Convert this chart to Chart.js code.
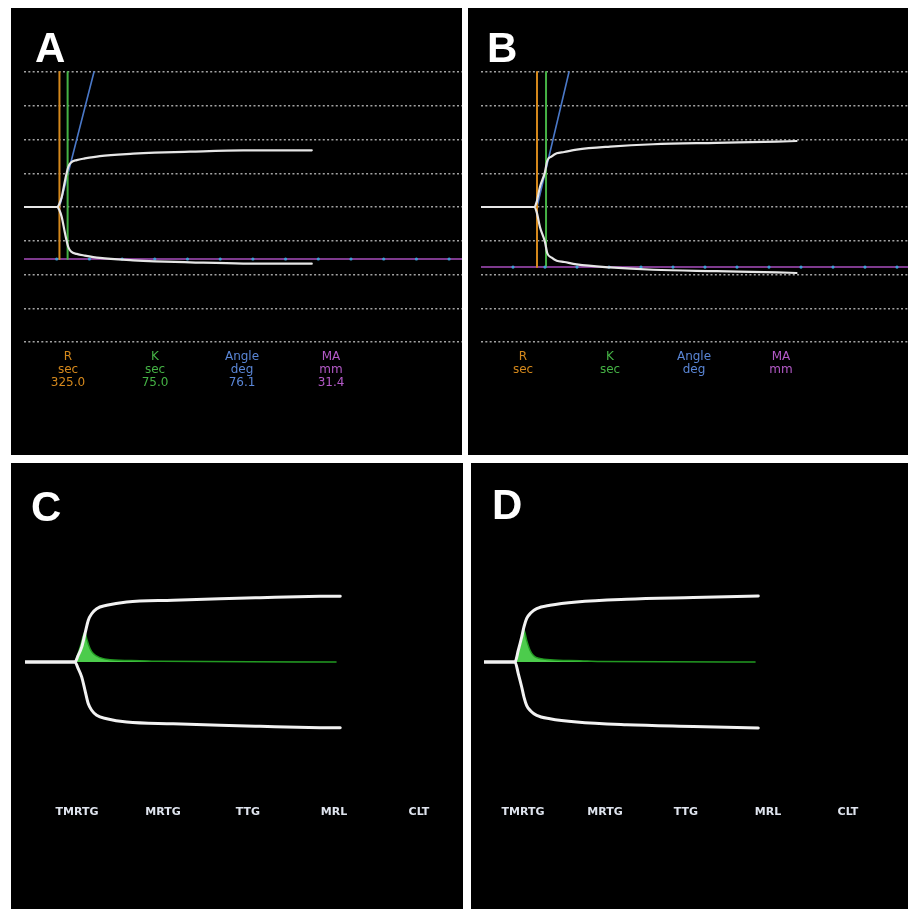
<!DOCTYPE html>
<html><head><meta charset="utf-8">
<script src="https://cdn.jsdelivr.net/npm/chart.js@4.4.1/dist/chart.umd.min.js"></script>
<style>
html,body{margin:0;padding:0;background:#fff;width:908px;height:909px;overflow:hidden;position:relative;}
.panel{position:absolute;background:#000;overflow:hidden;}
.panel canvas{position:absolute;top:0;}
.letter{position:absolute;font:bold 42px "Liberation Sans",Arial,sans-serif;color:#fff;line-height:42px;}
.lab{position:absolute;width:100px;text-align:center;font:12px "DejaVu Sans",Verdana,sans-serif;line-height:13px;}
.cat{position:absolute;width:100px;text-align:center;font:bold 11px "DejaVu Sans",Verdana,sans-serif;color:#dfe4ee;line-height:13px;}
</style></head><body>
<script>
// ---------- DATA (time in minutes, amplitude in mm from the centre line) ----------
const gridLevels = [-40, -30, -20, -10, 0, 10, 20, 30, 40];
const tickMinutes = [5, 10, 15, 20, 25, 30, 35, 40, 45, 50, 55, 60, 65];

// Panel A
const timeA = [0, 5.1, 5.4, 5.76, 6.27, 6.77, 7.2, 8.06, 9.3, 11.6, 16.7, 20.0, 25.4, 33.5, 44.0];
const ampA  = [0, 0, 0.9, 2.9, 7.8, 11.85, 13.2, 13.9, 14.4, 15.1, 15.8, 16.1, 16.4, 16.75, 16.8];
const rA = 5.42;          // R = 325.0 s
const kEndA = 6.67;       // R + K (K = 75.0 s)
const angleA = [[5.42, 0], [10.7, 40]];
const maLineA = -15.4;

// Panel B
const timeB = [0, 8.3, 8.7, 9.22, 10.0, 10.36, 11.05, 11.83, 13.0, 14.95, 20.16, 26.9, 36.8, 46.2, 49.3];
const ampB  = [0, 0, 1.5, 6.0, 10.4, 13.7, 15.0, 15.9, 16.3, 17.0, 17.9, 18.6, 19.0, 19.35, 19.55];
const rB = 8.75;
const kEndB = 10.16;
const angleB = [[8.75, 0], [13.75, 40]];
const maLineB = -17.8;

// Panel C
const timeC = [0, 7.69, 8.15, 8.72, 9.23, 9.74, 10.26, 11.03, 12.57, 15.65, 22.8, 30.0, 36.15, 45.4, 48.5];
const ampC  = [0, 0, 1.8, 4.4, 8.4, 12.4, 14.3, 15.8, 16.8, 17.8, 18.3, 18.75, 19.05, 19.45, 19.5];
const velTimeC = [7.69, 8.15, 8.62, 9.23, 9.49, 10.0, 10.5, 11.54, 13.08, 17.7, 20.8, 47.85];
const velC     = [0, 2.4, 5.3, 8.9, 6.9, 4.0, 2.5, 1.3, 0.7, 0.4, 0.2, 0];

// Panel D
const timeD = [0, 4.77, 5.28, 5.8, 6.15, 6.57, 7.18, 8.11, 10.15, 14.26, 21.95, 32.2, 42.2];
const ampD  = [0, 0, 3.5, 7.4, 10.4, 12.9, 14.5, 15.8, 16.8, 17.8, 18.6, 19.1, 19.55];
const velTimeD = [4.77, 5.23, 5.69, 6.15, 6.57, 7.08, 7.58, 8.11, 10.15, 14.77, 17.85, 41.7];
const velD     = [0, 3.0, 5.9, 9.5, 6.4, 3.5, 2.0, 1.3, 0.7, 0.4, 0.15, 0];

// Parameter table (panels A and B)
const paramNames = ['R', 'K', 'Angle', 'MA'];
const paramUnits = ['sec', 'sec', 'deg', 'mm'];
const paramValuesA = ['325.0', '75.0', '76.1', '31.4'];
const paramValuesB = ['', '', '', ''];
// Category labels (panels C and D)
const tegCategories = ['TMRTG', 'MRTG', 'TTG', 'MRL', 'CLT'];

// ---------- LAYOUT ----------
const paramColors = ['#d4881c', '#45b245', '#5a86d6', '#b45ac8'];
const WHITE_AB = '#e6e6e6', WHITE_CD = '#f2f2f2';

function el(tag, cls, style, html) {
  const e = document.createElement(tag);
  if (cls) e.className = cls;
  Object.assign(e.style, style || {});
  if (html !== undefined) e.innerHTML = html;
  document.body.appendChild(e);
  return e;
}
function pts(xs, ys, sign) { return xs.map((x, i) => ({ x: x, y: (sign || 1) * ys[i] })); }

function makeChart(panel, cfg) {
  const cv = document.createElement('canvas');
  cv.width = cfg.w; cv.height = cfg.h;
  cv.style.left = cfg.left + 'px';
  cv.style.width = cfg.w + 'px'; cv.style.height = cfg.h + 'px';
  panel.appendChild(cv);
  const ppu = 3.375;
  const yMax = cfg.center / ppu, yMin = -(cfg.h - cfg.center) / ppu;
  const xMax = cfg.w / cfg.ppm;
  return new Chart(cv.getContext('2d'), {
    type: 'line',
    data: { datasets: cfg.datasets(xMax) },
    options: {
      responsive: false, animation: false, devicePixelRatio: 1,
      layout: { padding: 0, autoPadding: false },
      elements: { point: { radius: 0 }, line: { borderCapStyle: 'round' } },
      plugins: { legend: { display: false }, tooltip: { enabled: false } },
      scales: {
        x: { type: 'linear', min: 0, max: xMax, display: false },
        y: {
          type: 'linear', min: yMin, max: yMax, display: cfg.grid,
          ticks: { display: false },
          border: { display: false, dash: [2, 2.33] },
          grid: { color: '#a3a3a3', lineWidth: 1.5, drawTicks: false, borderDash: [2, 2.33] },
          afterBuildTicks: s => { s.ticks = gridLevels.map(v => ({ value: v })); }
        }
      }
    }
  });
}

function abDatasets(time, amp, r, kEnd, angle, ma) {
  return xMax => [
    { data: pts(time, amp, 1), borderColor: WHITE_AB, borderWidth: 2.2, cubicInterpolationMode: 'monotone', order: 0 },
    { data: pts(time, amp, -1), borderColor: WHITE_AB, borderWidth: 2.2, cubicInterpolationMode: 'monotone', order: 0 },
    { data: tickMinutes.map(t => ({ x: t, y: ma })), showLine: false, pointRadius: 1.6, pointBackgroundColor: '#3f9fd6', pointBorderWidth: 0, order: 1 },
    { data: [{ x: r, y: ma }, { x: r, y: gridLevels[gridLevels.length - 1] }], borderColor: paramColors[0], borderWidth: 2, order: 2 },
    { data: [{ x: kEnd, y: ma }, { x: kEnd, y: gridLevels[gridLevels.length - 1] }], borderColor: paramColors[1], borderWidth: 2, order: 2 },
    { data: angle.map(p => ({ x: p[0], y: p[1] })), borderColor: '#4a78c8', borderWidth: 1.6, order: 3 },
    { data: [{ x: 0, y: ma }, { x: xMax, y: ma }], borderColor: '#7e3a8e', borderWidth: 2, order: 4 }
  ];
}
function cdDatasets(time, amp, vt, v) {
  return xMax => [
    { data: pts(time, amp, 1), borderColor: WHITE_CD, borderWidth: 3, cubicInterpolationMode: 'monotone', order: 0 },
    { data: pts(time, amp, -1), borderColor: WHITE_CD, borderWidth: 3, cubicInterpolationMode: 'monotone', order: 0 },
    { data: pts(vt, v, 1), borderColor: '#229a22', borderWidth: 1.5, backgroundColor: '#4ccc4c', fill: 'origin', cubicInterpolationMode: 'monotone', order: 1 }
  ];
}

const pA = el('div', 'panel', { left: '11px', top: '8px', width: '451px', height: '447px' });
const pB = el('div', 'panel', { left: '468px', top: '8px', width: '440px', height: '447px' });
const pC = el('div', 'panel', { left: '11px', top: '463px', width: '452px', height: '446px' });
const pD = el('div', 'panel', { left: '471px', top: '463px', width: '437px', height: '446px' });

makeChart(pA, { left: 13, w: 438, h: 447, center: 199, ppm: 6.54, grid: true, datasets: abDatasets(timeA, ampA, rA, kEndA, angleA, maLineA) });
makeChart(pB, { left: 13, w: 427, h: 447, center: 199, ppm: 6.4, grid: true, datasets: abDatasets(timeB, ampB, rB, kEndB, angleB, maLineB) });
makeChart(pC, { left: 14, w: 438, h: 446, center: 199, ppm: 6.5, grid: false, datasets: cdDatasets(timeC, ampC, velTimeC, velC) });
makeChart(pD, { left: 13, w: 424, h: 446, center: 199, ppm: 6.5, grid: false, datasets: cdDatasets(timeD, ampD, velTimeD, velD) });

// Panel letters
el('div', 'letter', { left: '35px', top: '27px' }, 'A');
el('div', 'letter', { left: '487px', top: '27px' }, 'B');
el('div', 'letter', { left: '31px', top: '486px' }, 'C');
el('div', 'letter', { left: '492px', top: '484px' }, 'D');

// Parameter tables
const colA = [68, 155, 242, 331], colB = [523, 610, 694, 781];
paramNames.forEach((n, i) => {
  el('div', 'lab', { left: (colA[i] - 50) + 'px', top: '350px', color: paramColors[i] }, n + '<br>' + paramUnits[i] + '<br>' + paramValuesA[i]);
  el('div', 'lab', { left: (colB[i] - 50) + 'px', top: '350px', color: paramColors[i] }, n + '<br>' + paramUnits[i] + '<br>' + (paramValuesB[i] || '&nbsp;'));
});
// Category labels
const colC = [77, 163, 248, 334, 419], colD = [523, 605, 686, 768, 848];
tegCategories.forEach((c, i) => {
  el('div', 'cat', { left: (colC[i] - 50) + 'px', top: '805px' }, c);
  el('div', 'cat', { left: (colD[i] - 50) + 'px', top: '805px' }, c);
});
</script>
</body></html>
